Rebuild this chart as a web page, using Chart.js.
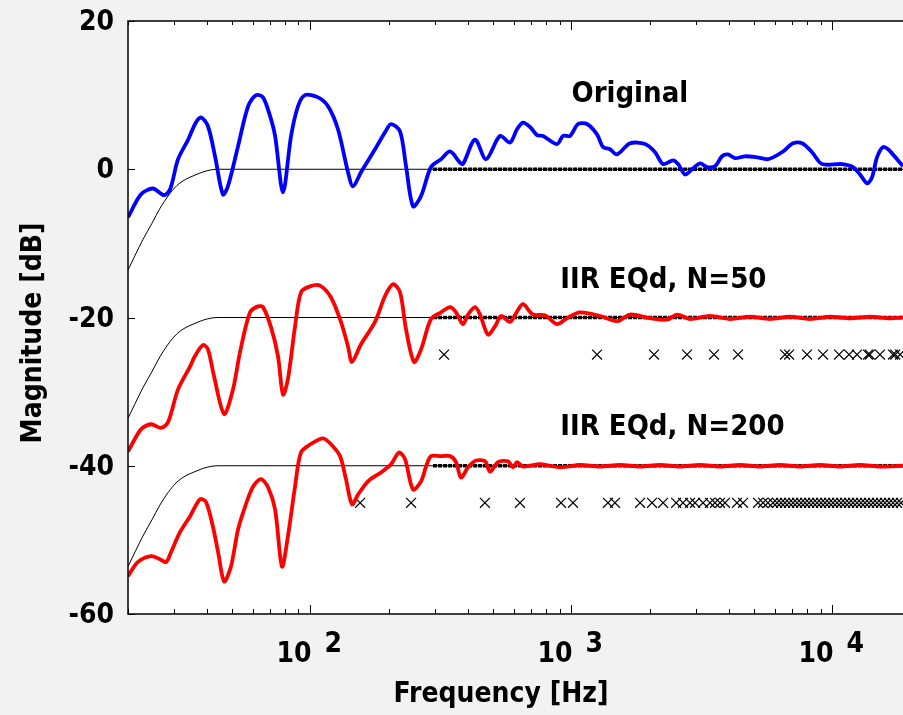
<!DOCTYPE html>
<html>
<head>
<meta charset="utf-8">
<script src="https://cdn.jsdelivr.net/npm/chart.js@4"></script>
<style>
  body { margin: 0; background: #f2f2f2; }
  canvas { display: block; }
</style>
</head>
<body>
<canvas id="eq_chart" width="903" height="715"></canvas>
<script>
// frequency axis values in Hz, magnitudes in dB
const origFreq = [20, 22.4, 24.9, 27.5, 29.0, 31.1, 34.0, 36.4, 38.1, 40.5, 43.1, 46.2, 48.3, 52.8, 57.7, 61.9, 65.8, 70.0, 73.2, 78.5,
    84.3, 89.6, 95.3, 106.9, 116.8, 127.5, 139.3, 145.6, 156.2, 176.8, 193.1, 203.6, 220.4, 232.4, 247.2, 265.3, 289.7, 316.5, 342.6, 374.1,
    384.1, 427.1, 470.7, 532.4, 581.6, 618.6, 652.2, 693.8, 738.1, 778.0, 880.5, 928.4, 987.6, 1060, 1147, 1253, 1321, 1405, 1495, 1677,
    1914, 2091, 2243, 2450, 2561, 2724, 2897, 3110, 3307, 3548, 3775, 3981, 4233, 4624, 5140, 5615, 5920, 6466, 7062, 7646,
    8351, 9120, 10880, 11990, 12750, 13560, 14170, 14810, 15620, 16330, 17680, 18630];
const origDb = [-6.5, -3.4, -2.6, -3.5, -2.7, 1.35, 4.0, 6.3, 7.0, 5.8, 1.75, -3.4, -2.3, 3.1, 8.5, 10.0, 9.7, 7.2, 4.5, -3.1,
    4.5, 8.5, 10.0, 9.7, 8.5, 5.4, -0.4, -2.3, -0.4, 2.7, 5.0, 6.1, 5.1, 0.4, -5.0, -3.6, 0.3, 1.35, 2.4, 0.9,
    0.7, 4.0, 1.35, 4.5, 3.6, 5.4, 6.3, 5.7, 4.6, 4.5, 3.4, 4.5, 4.5, 6.1, 6.1, 4.7, 3.0, 2.7, 2.0, 3.5,
    3.4, 2.3, 0.7, 1.2, 0.7, -0.7, 0.0, 0.8, 0.3, 0.4, 1.75, 2.0, 1.5, 1.75, 1.6, 1.35, 1.6, 2.4, 3.5, 3.5,
    2.3, 0.7, 0.7, 0.3, -0.7, -1.9, -1.1, 1.6, 3.0, 2.7, 1.35, 0.4];

const n50Freq = [20, 22.4, 24.5, 26.8, 28.5, 31.1, 34.6, 36.1, 38.8, 40.5, 42.7, 46.7, 50.5, 53.7, 58.7, 63.0, 65.8, 70.6, 75.1, 78.5,
    82.0, 87.3, 92.0, 99.6, 108.8, 119.9, 130.9, 139.3, 144.3, 156.2, 176.8, 193.1, 207.2, 220.4, 232.4, 249.4, 265.3, 289.7, 316.5, 342.6,
    361.2, 384.1, 401.6, 427.1, 446.3, 478.8, 509.4, 537.4, 581.6, 618.6, 652.2, 712.3, 792.0, 880.5, 961.6, 1078, 1287, 1495, 1677, 2000,
    2324, 2538, 2846, 3396, 4051, 4833, 5766, 6878, 8204, 9787, 11675, 13930, 16610, 18630];
const n50Db = [-38.1, -35.1, -34.4, -34.9, -34.1, -29.7, -26.6, -25.2, -23.7, -24.3, -27.9, -33.0, -29.7, -24.7, -19.3, -18.5, -18.6, -21.3, -25.2, -30.4,
    -28.3, -21.2, -16.6, -15.8, -15.7, -17.3, -20.6, -23.9, -26.0, -23.6, -20.6, -17.1, -15.5, -16.6, -21.6, -26.0, -24.3, -20.2, -19.3, -18.6,
    -19.3, -20.9, -19.6, -18.6, -19.6, -22.3, -21.2, -19.8, -20.6, -19.2, -18.2, -19.6, -19.7, -20.9, -20.1, -19.3, -19.8, -20.5, -19.6, -20.1,
    -20.3, -19.6, -20.2, -19.8, -20.2, -19.9, -20.2, -19.9, -20.2, -19.9, -20.1, -19.9, -20.1, -20.0];

const n200Freq = [20, 21.8, 24.5, 26.5, 28.0, 29.2, 31.6, 34.6, 37.8, 39.8, 42.3, 44.3, 46.7, 49.6, 52.8, 56.2, 60.3, 64.6, 68.8, 73.2,
    77.8, 82.0, 87.3, 92.0, 100, 111.7, 119.9, 129.8, 136.8, 144.3, 152.1, 166.2, 186.3, 203.6, 218.4, 230.3, 247.2, 265.3, 277.3, 289.7,
    316.5, 342.6, 361.2, 377.5, 401.6, 430.9, 466.6, 487.5, 523.1, 571.4, 597.2, 618.6, 652.2, 758, 904, 1078, 1287, 1535, 1832, 2184,
    2606, 3110, 3708, 4424, 5278, 6296, 7512, 8962, 10690, 12750, 15210, 18630];
const n200Db = [-54.9, -53.0, -52.2, -52.6, -53.0, -51.7, -49.0, -46.8, -44.5, -44.9, -48.2, -51.7, -55.6, -53.6, -48.6, -45.5, -42.8, -41.8, -42.9, -45.9,
    -53.6, -49.5, -42.8, -38.2, -37.1, -36.3, -37.1, -38.7, -41.8, -45.2, -43.9, -42.1, -40.9, -39.8, -38.2, -39.1, -43.2, -42.1, -40.1, -38.7,
    -38.7, -38.7, -39.5, -41.6, -40.2, -39.3, -39.4, -40.8, -39.5, -39.4, -40.2, -39.5, -40.1, -39.8, -40.2, -39.9, -40.1, -39.9, -40.1, -39.9,
    -40.1, -39.9, -40.1, -39.9, -40.1, -39.9, -40.1, -39.9, -40.1, -39.9, -40.1, -40.0];

// thin black target curves
const refFreq = [20, 21.3, 22.8, 24.7, 26.5, 28.5, 30.8, 33.1, 35.5, 37.8, 40.2, 43.8, 18630];
const ref0Db = [-13.6, -11.6, -9.5, -7.3, -5.3, -3.6, -2.2, -1.4, -0.9, -0.5, -0.2, 0, 0];
const ref50Db = [-33.6, -31.6, -29.5, -27.3, -25.3, -23.6, -22.2, -21.4, -20.9, -20.5, -20.2, -20, -20];
const ref200Db = [-53.6, -51.6, -49.5, -47.3, -45.3, -43.6, -42.2, -41.4, -40.9, -40.5, -40.2, -40, -40];

// thick dotted black target from ~300 Hz
const dotFreq = [295, 18630];
const dotLevels = [0, -20, -40];

// x markers (pole frequencies)
const cross50Freq = [325, 1253, 2071, 2772, 3518, 4348, 6580, 6820, 7990, 9200, 10600, 11580, 12420, 13680, 13900, 15200, 17060, 17400, 18160];
const cross50Db = -25;
const cross200Freq = [155, 243, 466, 635, 912, 1014, 1380, 1468, 1832, 2036, 2244, 2518, 2675, 2846, 2974, 3192, 3396, 3548, 3708, 3874,
    4308, 4544, 5188, 5420, 5660, 5920, 6133, 6353, 6580, 6820, 7065, 7318, 7581, 7853, 8135, 8427, 8730, 9043, 9368, 9704,
    10052, 10413, 10787, 11174, 11575, 11990, 12420, 12866, 13328, 13806, 14302, 14815, 15347, 15898, 16469, 17060, 17672, 18307];
const cross200Db = -45;

const yTicks = [20, 0, -20, -40, -60];
const xMajor = [100, 1000, 10000];
const xMajorExp = ['2', '3', '4'];

const labels = [
    { text: 'Original', f: 1000, db: 10.1 },
    { text: 'IIR EQd, N=50', f: 906, db: -15.0 },
    { text: 'IIR EQd, N=200', f: 906, db: -34.8 }
];

const FONT = '"DejaVu Sans Condensed", "DejaVu Sans", sans-serif';

function pts(fs, ds) {
    return fs.map((f, i) => ({ x: f, y: Array.isArray(ds) ? ds[i] : ds }));
}

const datasets = [
    { data: pts(origFreq, origDb), borderColor: '#0000ff', borderWidth: 3.8, tension: 0.3, order: 0 },
    { data: pts(n50Freq, n50Db), borderColor: '#ff0000', borderWidth: 3.8, tension: 0.3, order: 0 },
    { data: pts(n200Freq, n200Db), borderColor: '#ff0000', borderWidth: 3.8, tension: 0.3, order: 0 },
    { data: pts(refFreq, ref0Db), borderColor: '#000', borderWidth: 1, cubicInterpolationMode: 'monotone', order: 2 },
    { data: pts(refFreq, ref50Db), borderColor: '#000', borderWidth: 1, cubicInterpolationMode: 'monotone', order: 2 },
    { data: pts(refFreq, ref200Db), borderColor: '#000', borderWidth: 1, cubicInterpolationMode: 'monotone', order: 2 },
    { data: pts(cross50Freq, cross50Db), showLine: false, pointStyle: 'crossRot', pointRadius: 7,
      borderColor: '#000', borderWidth: 1.2, order: 1 },
    { data: pts(cross200Freq, cross200Db), showLine: false, pointStyle: 'crossRot', pointRadius: 7,
      borderColor: '#000', borderWidth: 1.2, order: 1 }
];
dotLevels.forEach(lv => {
    datasets.push({ data: pts(dotFreq, lv), borderColor: '#000', borderWidth: 3.5, borderDash: [4, 1], order: 1 });
});

const framePlugin = {
    id: 'frame',
    beforeDraw(chart) {
        const c = chart.ctx, a = chart.chartArea;
        c.save();
        c.fillStyle = '#f2f2f2';
        c.fillRect(0, 0, chart.width, chart.height);
        c.fillStyle = '#fff';
        c.fillRect(a.left, a.top, a.right - a.left, a.bottom - a.top);
        c.restore();
    },
    afterDraw(chart) {
        const c = chart.ctx, a = chart.chartArea;
        const xs = chart.scales.x, ys = chart.scales.y;
        c.save();
        c.strokeStyle = '#000';
        c.lineWidth = 1.5;
        c.beginPath();
        c.moveTo(a.right, a.top); c.lineTo(a.left, a.top);
        c.lineTo(a.left, a.bottom); c.lineTo(a.right, a.bottom);
        c.stroke();

        // x ticks, inward on top and bottom
        c.lineWidth = 1;
        for (let dec = 10; dec <= 10000; dec *= 10) {
            for (let m = 1; m <= 9; m++) {
                const f = dec * m;
                if (f < 20 || f > 18630) continue;
                const px = Math.round(xs.getPixelForValue(f)) + 0.5;
                const len = m === 1 ? 9 : 5;
                c.beginPath();
                c.moveTo(px, a.bottom); c.lineTo(px, a.bottom - len);
                c.moveTo(px, a.top); c.lineTo(px, a.top + (m === 1 ? 9 : 4));
                c.stroke();
            }
        }
        // y ticks
        c.fillStyle = '#000';
        c.font = 'bold 28px ' + FONT;
        c.textAlign = 'right';
        c.textBaseline = 'middle';
        yTicks.forEach(v => {
            const py = Math.round(ys.getPixelForValue(v)) + 0.5;
            c.beginPath();
            c.moveTo(a.left, py); c.lineTo(a.left + 7, py);
            c.stroke();
            c.fillText(String(v), 114, py + 1);
        });
        // x tick labels 10^n
        c.textBaseline = 'alphabetic';
        xMajor.forEach((f, i) => {
            const px = xs.getPixelForValue(f);
            c.textAlign = 'right';
            c.fillText('10', px + 1, 662);
            c.textAlign = 'left';
            c.fillText(xMajorExp[i], px + 14, 652);
        });
        // axis titles
        c.textAlign = 'center';
        c.fillText('Frequency [Hz]', 501, 702);
        c.save();
        c.translate(34, 333);
        c.rotate(-Math.PI / 2);
        c.textBaseline = 'middle';
        c.fillText('Magnitude [dB]', 0, 0);
        c.restore();
        // curve labels
        c.font = 'bold 29px ' + FONT;
        c.textAlign = 'left';
        c.textBaseline = 'middle';
        labels.forEach(l => {
            c.fillText(l.text, xs.getPixelForValue(l.f), ys.getPixelForValue(l.db));
        });
        c.restore();
    }
};

new Chart(document.getElementById('eq_chart'), {
    type: 'line',
    data: { datasets: datasets },
    options: {
        responsive: false,
        animation: false,
        layout: { autoPadding: false, padding: { left: 128, top: 21, right: 0, bottom: 101 } },
        elements: { point: { radius: 0 } },
        plugins: { legend: { display: false }, tooltip: { enabled: false } },
        scales: {
            x: { type: 'logarithmic', min: 20, max: 18630, display: false },
            y: { type: 'linear', min: -60, max: 20, display: false }
        }
    },
    plugins: [framePlugin]
});
</script>
</body>
</html>
